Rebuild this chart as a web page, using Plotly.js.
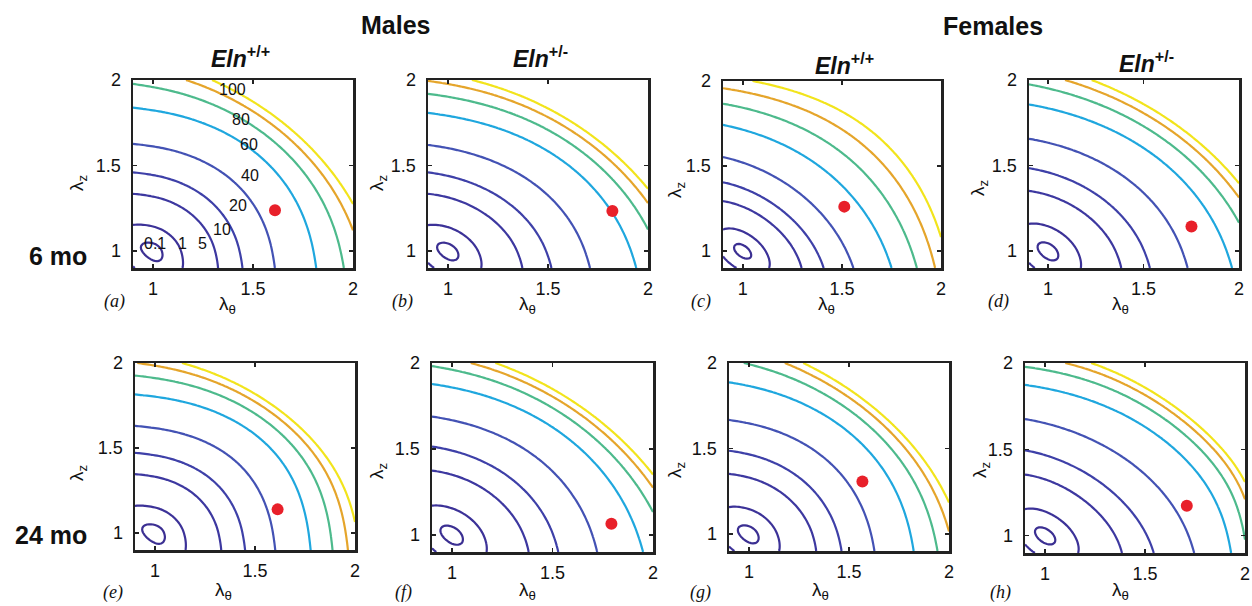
<!DOCTYPE html>
<html><head><meta charset="utf-8">
<script src="https://cdn.plot.ly/plotly-3.0.1.min.js"></script>
<style>
html,body{margin:0;padding:0;background:#fff}
#chart{width:1252px;height:606px}
</style>
</head><body><div id="chart"></div>
<script>
// Strain-energy contours W(λθ, λz) in kPa for eight groups (a–h), with the in vivo operating point.
const panelIds = ['a','b','c','d','e','f','g','h'];
const levels = [0.1, 1, 5, 10, 20, 40, 60, 80, 100];
const levelColors = ['#3b2f92','#3c3298','#3d38a0','#3e40a8','#4352b4','#1fa7de','#4dba8c','#e5a52b','#f2e41c'];

// Four-fibre-family constitutive parameters per group
const neoC      = [15.33, 19.64, 30.86, 19.52, 13.50, 17.65, 18.78, 24.64];   // c (kPa)
const circC1    = [19.80, 7.087, 2.936, 5.422, 19.76, 7.670, 13.97, 1.244];   // c1, circumferential (kPa)
const circC2    = [0.0001, 0.03866, 0.2009, 0.05415, 0.09281, 0.03207, 0.07008, 0.3840];
const axC1      = [17.89, 12.80, 11.23, 9.472, 16.66, 7.982, 11.37, 5.335];   // c1, axial (kPa)
const axC2      = [0.0001, 0.09717, 0.1144, 0.06291, 0.07458, 0.1181, 0.01935, 0.1843];
const diagC1    = [2.390, 3.639, 22.02, 4.614, 2.357, 3.186, 2.289, 1.807];   // c1, diagonal pair (kPa)
const diagC2    = [1.021, 0.9512, 0.1013, 0.8305, 1.200, 1.037, 1.200, 1.200];
const diagAngle = [45.0, 43.1, 50.2, 42.8, 44.0, 43.4, 45.3, 44.0];         // degrees from axial

// In vivo operating point (λθ, λz)
const dotTheta = [1.61, 1.822, 1.512, 1.751, 1.613, 1.793, 1.567, 1.709];
const dotZ     = [1.238, 1.234, 1.261, 1.143, 1.139, 1.065, 1.307, 1.174];

// Manual contour labels in panel (a)
const labelTheta = [1.012, 1.145, 1.249, 1.344, 1.427, 1.485, 1.482, 1.439, 1.399];
const labelZ     = [1.043, 1.043, 1.043, 1.127, 1.263, 1.439, 1.62, 1.77, 1.942];

const tickVals = [1, 1.5, 2];
const tickText = ['1', '1.5', '2'];

function energy(i, lt, lz) {
  const I1 = lt*lt + lz*lz + 1/(lt*lt*lz*lz);
  const Et = Math.max(lt*lt - 1, 0), Ez = Math.max(lz*lz - 1, 0);
  const a = diagAngle[i]*Math.PI/180;
  const Ed = Math.max(lt*lt*Math.sin(a)**2 + lz*lz*Math.cos(a)**2 - 1, 0);
  return 0.5*neoC[i]*(I1 - 3)
    + circC1[i]/(4*circC2[i])*(Math.exp(circC2[i]*Et*Et) - 1)
    + axC1[i]/(4*axC2[i])*(Math.exp(axC2[i]*Ez*Ez) - 1)
    + 2*diagC1[i]/(4*diagC2[i])*(Math.exp(diagC2[i]*Ed*Ed) - 1);
}

const grid = []; for (let k = 0; k <= 110; k++) grid.push(+(0.9 + k*0.01).toFixed(2));
const boxes = [[133,353,80,268],[428,648,80,268],[723,941,81,268],[1029,1239,80,268],
               [135,355,363,550],[432,653,363,552],[729,949,363,551],[1025,1245,363,553]];
const W = 1252, H = 606;
const sans = 'Arial, "Liberation Sans", sans-serif', serif = '"Times New Roman", "Liberation Serif", serif';
const traces = [];
const layout = {width:W, height:H, margin:{l:0,r:0,t:0,b:0}, paper_bgcolor:'#fff', plot_bgcolor:'#fff', showlegend:false, annotations:[]};
const tf = {family:sans, size:18, color:'#111'};

for (let i = 0; i < 8; i++) {
  const k = i === 0 ? '' : String(i + 1);
  const Z = grid.map(y => grid.map(x => energy(i, x, y)));
  levels.forEach((L, j) => traces.push({type:'contour', x:grid, y:grid, z:Z, xaxis:'x'+k, yaxis:'y'+k, autocontour:false,
    contours:{start:L, end:L, size:1, coloring:'lines'}, colorscale:[[0,levelColors[j]],[1,levelColors[j]]], showscale:false,
    line:{width:2.2, smoothing:0}, hoverinfo:'skip'}));
  traces.push({type:'scatter', mode:'markers', x:[dotTheta[i]], y:[dotZ[i]], xaxis:'x'+k, yaxis:'y'+k,
    marker:{size:12, color:'#e8202a'}, hoverinfo:'skip'});
  const b = boxes[i];
  const ax = {range:[0.9,2], tickvals:tickVals, ticktext:tickText, ticks:'inside', ticklen:4, tickwidth:1.5, tickcolor:'#222',
    mirror:'allticks', showline:true, linecolor:'#222', linewidth:2.5, showgrid:false, zeroline:false, tickfont:tf, fixedrange:true};
  layout['xaxis'+k] = Object.assign({}, ax, {domain:[b[0]/W, b[1]/W], anchor:'y'+k, ticklabelstandoff:3});
  layout['yaxis'+k] = Object.assign({}, ax, {domain:[1-b[3]/H, 1-b[2]/H], anchor:'x'+k, ticklabelstandoff:6});
}

function note(text, px, py, size, extra) {
  layout.annotations.push(Object.assign({text:text, xref:'paper', yref:'paper', x:px/W, y:1-py/H, xanchor:'center', yanchor:'middle',
    showarrow:false, font:{family:sans, size:size, color:'#111'}}, extra || {}));
}
note('<b>Males</b>', 395, 25, 25);
note('<b>Females</b>', 993, 26, 25);
[['+/+',240,57],['+/-',540,57],['+/+',844,64],['+/-',1146,62]].forEach(([g,x,y]) => note('<b><i>Eln</i><sup>'+g+'</sup></b>', x, y, 23));
note('<b>6 mo</b>', 58, 256, 25);
note('<b>24 mo</b>', 51, 535, 25);
[[114,302],[402,302],[701,302],[998,302],[113,592],[404,592],[700,592],[1000,592]].forEach(([x,y],i) =>
  note('<i>('+panelIds[i]+')</i>', x, y, 18, {font:{family:serif, size:18, color:'#111'}}));
[[227,305],[527,305],[826,305],[1120,305],[223,591],[527,591],[820,591],[1120,591]].forEach(([x,y]) => note('λ<sub>θ</sub>', x, y, 19));
[[78,183],[378,183],[676,190],[979,188],[78,473],[378,471],[676,470],[981,470]].forEach(([x,y]) => note('λ<sub>z</sub>', x, y, 19, {textangle:-90}));
levels.forEach((L, j) => layout.annotations.push({text:String(L), xref:'x', yref:'y', x:labelTheta[j], y:labelZ[j], showarrow:false,
  xanchor:'center', yanchor:'middle', font:{family:sans, size:16, color:'#111'}}));

Plotly.newPlot('chart', traces, layout, {staticPlot:true});
</script></body></html>
